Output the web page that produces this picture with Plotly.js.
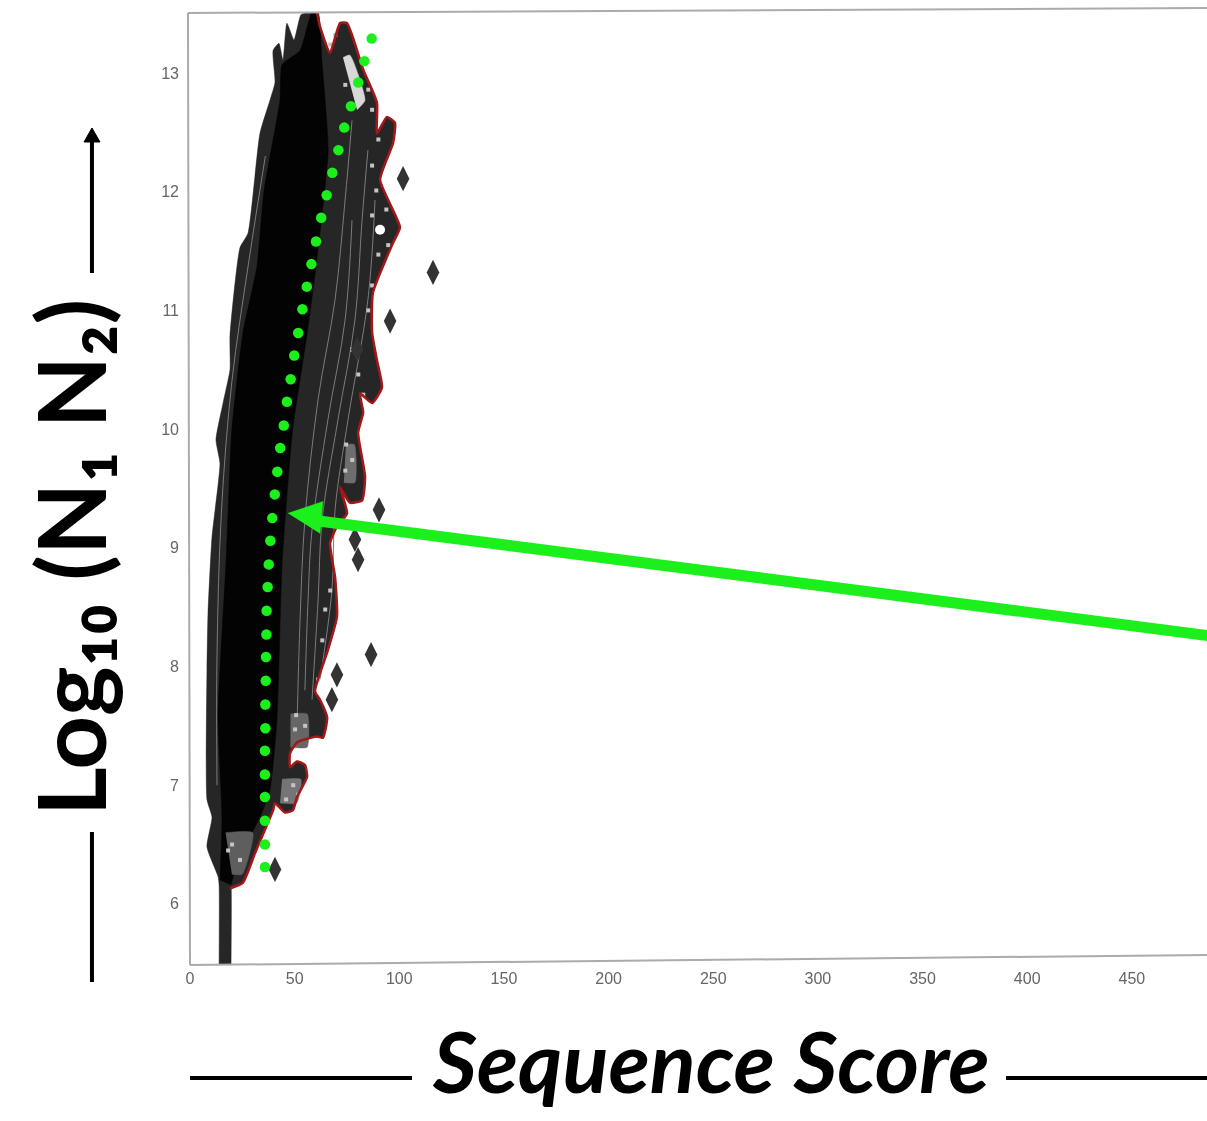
<!DOCTYPE html>
<html>
<head>
<meta charset="utf-8">
<script src="https://cdn.plot.ly/plotly-3.0.1.min.js"></script>
<style>html,body{margin:0;padding:0;background:#fff}#chart{width:1207px;height:1121px;filter:blur(0.6px)}</style>
</head>
<body>
<div id="chart"></div>
<script>
// Left edge of the contour cloud, bottom to top
var leftX = [13.9,13.9,13.4,8.1,10.5,8.1,8.1,8.6,10.5,14.3,12.4,15.8,19.1,19.1,23.9,27.7,33.4,38.2,40.6,39.7,42.5,44.4,46.3,49.7,53.0,55.9,61.2];
var leftY = [5.49,6.16,6.23,6.48,6.73,6.88,7.97,8.45,9.09,9.71,9.91,10.22,10.50,10.79,11.53,11.65,12.49,12.77,12.92,13.19,13.25,13.11,13.42,13.28,13.49,13.51,13.51];
// Outermost (red) contour, top to bottom
var redX = [60.7,62.1,66.9,71.7,75.0,82.7,89.3,89.3,94.1,97.9,97.0,90.8,100.3,97.0,87.4,87.0,89.3,91.7,87.0,81.2,82.7,80.3,83.6,82.2,76.4,71.7,75.0,70.2,66.9,69.3,70.2,65.9,59.7,62.1,65.5,63.5,60.7,51.1,47.8,47.8,51.1,54.9,55.9,51.1,49.2,45.4,40.6,39.7,31.1,25.3,19.1];
var redY = [13.51,13.39,13.17,13.42,13.42,13.03,12.75,12.49,12.63,12.58,12.41,12.10,11.70,11.57,11.15,10.81,10.58,10.35,10.22,10.30,10.14,9.97,9.60,9.40,9.38,9.51,9.29,9.18,9.04,8.75,8.42,8.14,7.79,7.72,7.57,7.40,7.41,7.36,7.27,7.15,7.20,7.17,7.07,6.90,6.79,6.77,6.85,6.79,6.43,6.18,6.13];
var stemX = [19.6,19.6];
var stemY = [6.16,5.49];
// Dense black core of the cloud
var coreX = [14.3,15.3,13.4,17.2,20,25.3,32,35.4,43,44,52.6,58.3,61.2,63,66,60,56,49,44,41.6,38.2,33.4,22.9,19.6];
var coreY = [6.2,6.73,7.57,8.87,9.99,10.81,11.37,12.01,12.77,13.07,13.19,13.51,13.51,13.11,12.35,11.34,10.81,9.99,8.87,7.57,6.96,6.73,6.37,6.16];
// Inner contours
var c1X=[51.1,52.6,54.9,61.2,69.3,74.1,77.4], c1Y=[7.47,8.40,9.24,10.25,11.09,11.93,12.6];
var c2X=[58.3,61.2,63.1,70.7,78.8,82.2,85], c2Y=[7.72,8.56,9.23,10.08,10.92,11.76,12.35];
var c3X=[12.9,12.9,15,20,28,36], c3Y=[7.0,8.1,9.3,10.4,11.4,12.3];
var c4X=[54.9,56.4,58.3,65.9,74.1,77.4], c4Y=[7.80,8.56,9.15,10.08,10.92,11.76];
var c5X=[62.1,67.8,69.3,75.5,85,88.4], c5Y=[7.89,8.64,9.32,10.08,11.09,11.93];
// Light speckled islands and empty gaps in the cloud
var gapTopX=[73.1,76.4,83.6,79.8], gapTopY=[13.13,13.15,12.77,12.69];
var gapX=[90.8], gapY=[11.68];
var islandAX=[74.5,78.5,78.8,73.5], islandAY=[9.87,9.87,9.55,9.55];
var islandBX=[48,56,56,48], islandBY=[7.60,7.60,7.32,7.32];
var islandCX=[44,53,51,43], islandCY=[7.05,7.05,6.85,6.85];
var islandDX=[17,30,25,20], islandDY=[6.60,6.60,6.25,6.25];
var speckX=[90,87,89,87,93.8,94.7,90,87,85.2,77.5,80.4,82.8,74.6,77.5,74.2,64.6,63.2,67,61.2,50.7,55,50.2,49.3,51.7,45.9,20.1,23.9,18.2,67,69.4,74.2,85.2,87];
var speckY=[12.44,12.22,12.01,11.8,11.85,11.55,11.47,11.21,11,10.67,10.46,10.29,9.87,9.74,9.65,8.48,8.22,8.64,7.89,7.59,7.5,7.47,7,6.92,6.88,6.5,6.37,6.45,13.24,13.32,12.9,12.86,12.69];
// Outlying contours
var outX=[101.8,116.1,95.6,90.3,78.8,80.3,86.5,40.6,70.2,67.8,79.8];
var outY=[12.11,11.32,10.91,9.32,9.07,8.90,8.10,6.29,7.93,7.72,10.67];
// Dotted green ridge
var dotX=[86.8,83.3,80.4,76.9,73.7,70.9,68.0,65.3,62.7,60.2,58.0,55.8,53.7,51.7,49.8,48.1,46.3,44.8,43.1,41.7,40.5,39.3,38.4,37.6,37.1,36.6,36.5,36.3,36.2,36.0,36.0,35.8,35.8,35.8,35.8,35.8,35.8];
var dotY=[13.29,13.10,12.92,12.72,12.54,12.35,12.16,11.97,11.78,11.58,11.39,11.20,11.01,10.81,10.62,10.42,10.23,10.03,9.84,9.64,9.45,9.25,9.06,8.86,8.67,8.47,8.27,8.08,7.88,7.68,7.48,7.29,7.09,6.90,6.70,6.50,6.31];
// Green pointer
var shaftX=[59.7,486.6], shaftY=[9.23,8.26];
var headX=[46.8,63.5,62.1], headY=[9.29,9.39,9.12];
// Axes
var xTicks=[0,50,100,150,200,250,300,350,400,450];
var yTicks=[6,7,8,9,10,11,12,13];
var xName='Sequence Score';
var yName='Log\u2081\u2080 (N\u2081 N\u2082)';

function poly(x,y,color,smooth){
  return {x:x,y:y,type:'scatter',mode:'lines',fill:'toself',fillcolor:color,
    line:{color:color,width:0.5,shape:smooth?'spline':'linear',smoothing:0.5},hoverinfo:'skip',showlegend:false};
}
function contour(x,y){
  return {x:x,y:y,type:'scatter',mode:'lines',line:{color:'#7c7c7c',width:1,shape:'spline'},hoverinfo:'skip',showlegend:false};
}
var GREEN='#1cf01c';
var traces=[
  poly(leftX.concat(redX,stemX),leftY.concat(redY,stemY),'#262626',true),
  poly(coreX,coreY,'#030303',true),
  contour(c1X,c1Y),contour(c2X,c2Y),contour(c3X,c3Y),contour(c4X,c4Y),contour(c5X,c5Y),
  poly(islandAX,islandAY,'#6e6e6e',true),
  poly(islandBX,islandBY,'#666666',true),
  poly(islandCX,islandCY,'#757575',true),
  poly(islandDX,islandDY,'#5e5e5e',true),
  poly(gapTopX,gapTopY,'#d8d8d8',true),
  {x:speckX,y:speckY,type:'scatter',mode:'markers',marker:{symbol:'square',size:4,color:'#c4c4c4'},hoverinfo:'skip',showlegend:false},
  {x:gapX,y:gapY,type:'scatter',mode:'markers',marker:{symbol:'circle',size:10,color:'#ffffff'},hoverinfo:'skip',showlegend:false},
  {x:redX,y:redY,type:'scatter',mode:'lines',line:{color:'#a01818',width:2.6,shape:'spline',smoothing:0.5},hoverinfo:'skip',showlegend:false},
  {x:outX,y:outY,type:'scatter',mode:'markers',marker:{symbol:'diamond-tall',size:18,color:'#333333'},hoverinfo:'skip',showlegend:false},
  {x:dotX,y:dotY,type:'scatter',mode:'markers',marker:{symbol:'circle',size:10.5,color:GREEN},hoverinfo:'skip',showlegend:false},
  {x:shaftX,y:shaftY,type:'scatter',mode:'lines',line:{color:GREEN,width:11},hoverinfo:'skip',showlegend:false},
  poly(headX,headY,GREEN,false)
];
var blackLine={color:'#000',width:4};
var frameLine={color:'#ababab',width:2};
function seg(x0,y0,x1,y1,l){return {type:'line',xref:'paper',yref:'paper',x0:x0,y0:y0,x1:x1,y1:y1,line:l,layer:'above'};}
var layout={
  width:1207,height:1121,margin:{l:190,r:0,t:12,b:156},
  paper_bgcolor:'#fff',plot_bgcolor:'#fff',showlegend:false,
  font:{family:'"Liberation Sans",Arial,sans-serif',color:'#666',size:16},
  xaxis:{range:[0,485.9],tickvals:xTicks,ticktext:xTicks.map(String),showgrid:false,zeroline:false,showline:false,ticks:'',ticklabelstandoff:2,fixedrange:true},
  yaxis:{range:[5.485,13.514],tickvals:yTicks,ticktext:yTicks.map(String),showgrid:false,zeroline:false,showline:false,ticks:'',ticklabelstandoff:10,fixedrange:true},
  shapes:[
    seg(-0.002,0.999,0,0,frameLine),
    seg(0,0,1,0.0105,frameLine),
    seg(-0.002,0.999,1,1.0042,frameLine),
    seg(-0.0964,0.8636,-0.0964,0.7261,blackLine),
    seg(-0.0964,0.1396,-0.0964,-0.0178,blackLine),
    seg(0,-0.1186,0.2183,-0.1186,blackLine),
    seg(0.8024,-0.1186,1,-0.1186,blackLine),
    {type:'path',xref:'paper',yref:'paper',path:'M -0.0964 0.8783 L -0.1042 0.8636 L -0.0885 0.8636 Z',fillcolor:'#000',line:{color:'#000',width:1},layer:'above'}
  ],
  annotations:[
    {xref:'paper',yref:'paper',x:0.5123,y:-0.1,text:xName,showarrow:false,xanchor:'center',yanchor:'middle',
     font:{family:'Lato,"Liberation Sans",sans-serif',size:85,color:'#000',weight:700,style:'italic'}},
    {xref:'paper',yref:'paper',x:-0.119,y:0.428,text:yName,showarrow:false,textangle:-90,xanchor:'center',yanchor:'middle',
     font:{family:'Lato,"DejaVu Sans",sans-serif',size:94,color:'#000',weight:700}}
  ]
};
Plotly.newPlot('chart',traces,layout,{displayModeBar:false,staticPlot:true});
</script>
</body>
</html>
